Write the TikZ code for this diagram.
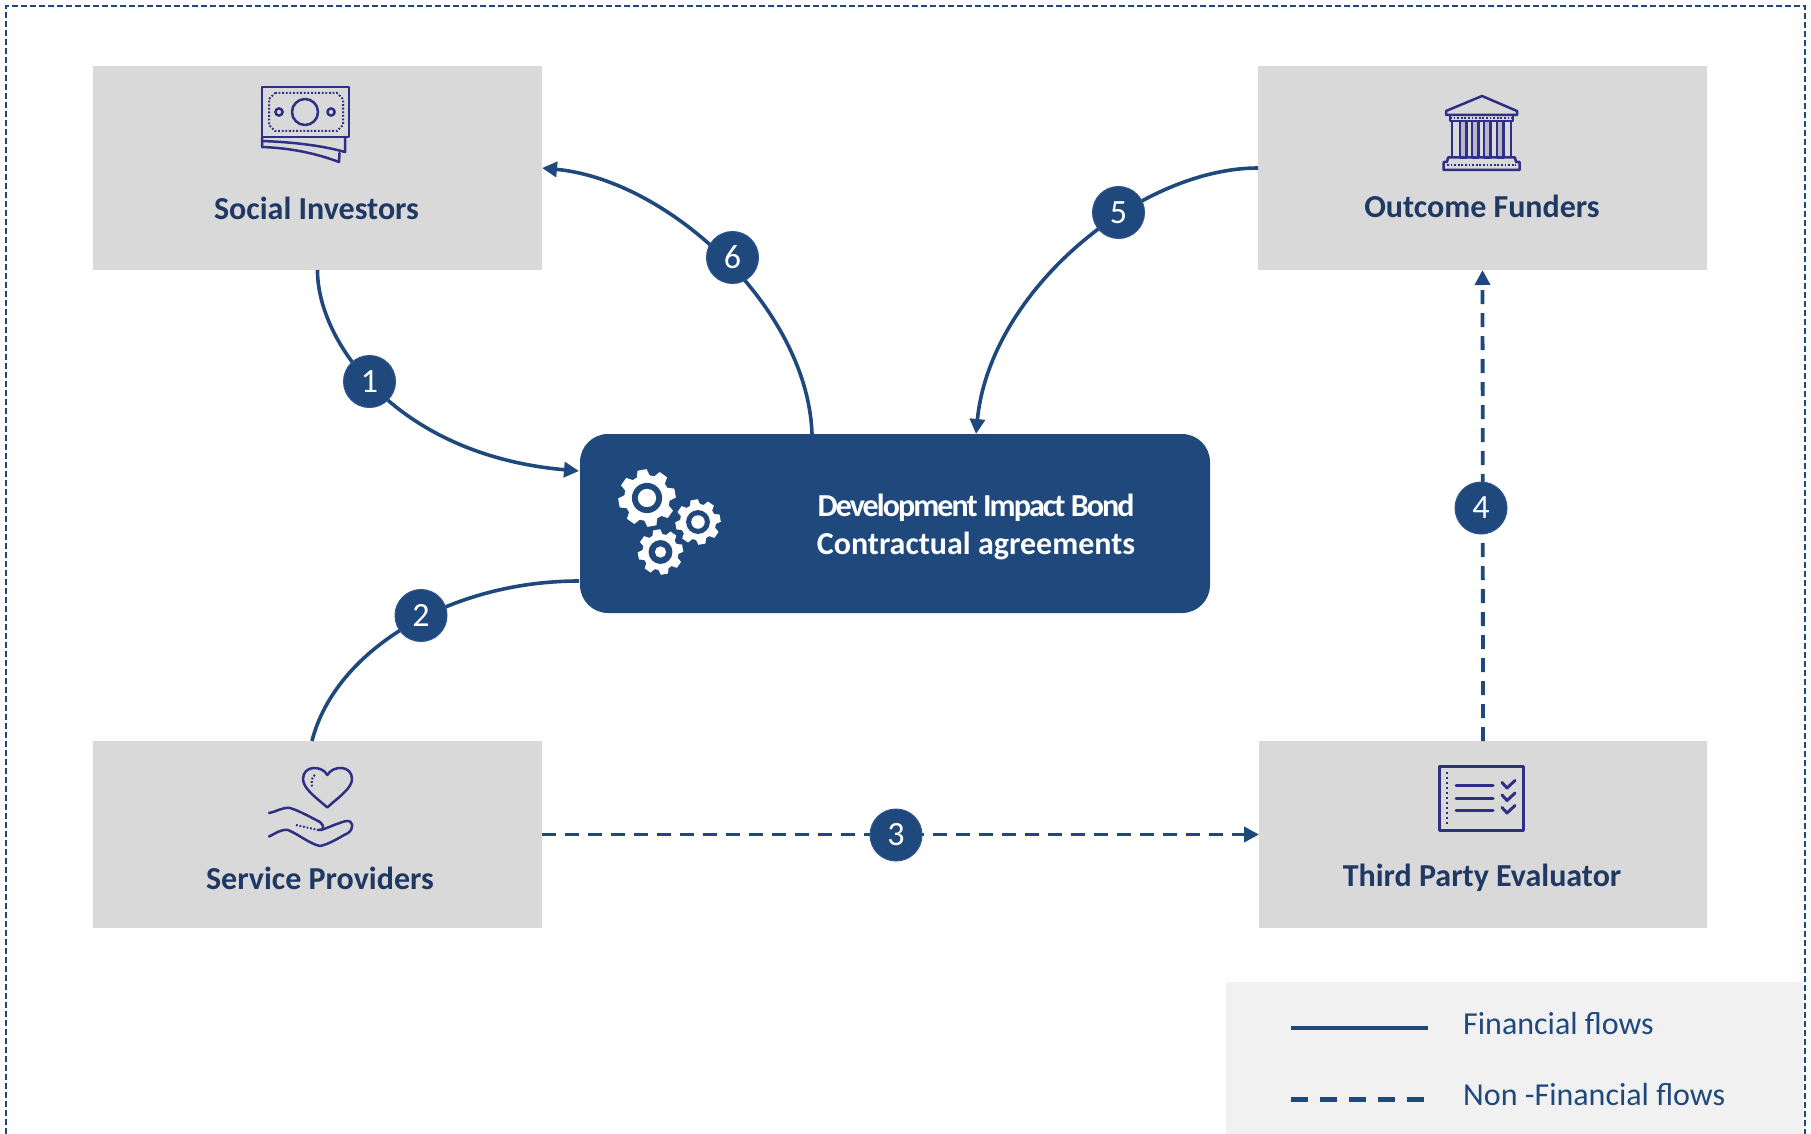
\documentclass[tikz,border=0pt]{standalone}
\usepackage{fontspec}
\setmainfont{Carlito}
\usetikzlibrary{arrows.meta}
\definecolor{flow}{HTML}{1F497D}
\definecolor{ink}{HTML}{1F3864}
\definecolor{icon}{HTML}{2F2F85}
\definecolor{boxgray}{HTML}{D9D9D9}
\definecolor{leggray}{HTML}{F1F1F1}
\definecolor{ringblue}{HTML}{2F5590}
\newcommand{\mygear}[4]{% x, y, scale radius, hole ratio
  \begin{scope}[shift={(#1,#2)},x=#3pt,y=-#3pt]
    \fill[white] (0,0) circle (0.80);
    \foreach \a in {0,45,...,315}{
      \fill[white,rotate=\a+10] (-0.24,0.72) -- (-0.16,1) -- (0.16,1) -- (0.24,0.72) -- cycle;
    }
    \fill[flow] (0,0) circle (0.53);
    \fill[white] (0,0) circle (#4);
  \end{scope}}
\tikzset{
  x=1pt,y=-1pt,
  greybox/.style={rectangle,fill=boxgray,draw=none,inner sep=0pt,outer sep=0pt},
  title/.style={anchor=base,text=ink,font=\fontsize{32}{38}\selectfont\bfseries,inner sep=0pt},
  hubtext/.style={anchor=base,text=white,font=\fontsize{32}{38}\selectfont\bfseries,inner sep=0pt},
  legtext/.style={anchor=base west,text=flow,font=\fontsize{32}{38}\selectfont,inner sep=0pt},
  badge/.style={circle,fill=flow,draw=ringblue,line width=1pt,minimum size=52pt,inner sep=0pt,text=white,font=\fontsize{34}{38}\selectfont},
  solidflow/.style={draw=flow,line width=3.6pt},
  dashflow/.style={draw=flow,line width=3.8pt,dash pattern=on 14pt off 9pt},
  tip/.style={-{Triangle[length=15pt,width=15pt]}},
  ic/.style={draw=icon,line width=2.5pt,line join=round,line cap=round},
  icdots/.style={draw=icon,line width=2pt,dash pattern=on 1.8pt off 1.8pt},
}
\begin{document}
\begin{tikzpicture}
\useasboundingbox (0,0) rectangle (1811,1134);
% frame
\draw[flow,line width=1.1pt,dash pattern=on 6pt off 3pt] (6,1134) -- (6,6) -- (1805,6) -- (1805,1134);
% legend
\fill[leggray] (1226,982) rectangle (1803,1134);
\coordinate (la) at (1291,1028); \coordinate (lb) at (1428,1028);
\coordinate (lc) at (1291,1099.5); \coordinate (ld) at (1428,1099.5);
\draw[solidflow,line width=4pt] (la) -- (lb);
\draw[draw=flow,line width=4.4pt,dash pattern=on 16.5pt off 12.5pt] (lc) -- (ld);
\node[legtext] (lt1) at (1463,1034) {Financial flows};
\node[legtext] (lt2) at (1463,1105.5) {Non -Financial flows};
% boxes
\node[greybox,minimum width=449pt,minimum height=204pt] (social) at (317.5,168) {};
\node[greybox,minimum width=449pt,minimum height=204pt] (funders) at (1482.5,168) {};
\node[greybox,minimum width=449pt,minimum height=187pt] (service) at (317.5,834.5) {};
\node[greybox,minimum width=448pt,minimum height=187pt] (evaluator) at (1483,834.5) {};
\node[rectangle,rounded corners=28pt,fill=flow,inner sep=0pt,outer sep=0pt,minimum width=630pt,minimum height=179pt] (hub) at (895,523.5) {};
\node[title] (tsocial) at (316.5,219) {Social Investors};
\node[title] (tfunders) at (1482,218) {Outcome Funders};
\node[title] (tservice) at (320,889) {Service Providers};
\node[title] (tevaluator) at (1482,886.5) {Third Party Evaluator};
\node[hubtext,font=\fontsize{32}{38}\selectfont\bfseries\addfontfeature{LetterSpace=-6}] (hub1) at (976,516) {Development Impact Bond};
\node[hubtext] (hub2) at (976,554) {Contractual agreements};
% connector ends
\coordinate (h1) at (579,471);
\coordinate (h2) at (579,581);
\coordinate (h5) at (976,434);
\coordinate (h6) at (812,434);
\coordinate (s2) at (312,741);
% connectors
\draw[solidflow,tip] (social.south) .. controls (317,340) and (395,455) .. (h1);
\draw[solidflow] (s2) .. controls (335,650) and (450,581) .. (h2);
\draw[dashflow,tip] (service.east) -- (evaluator.west);
\draw[dashflow,tip] (evaluator.north) -- (funders.south);
\draw[solidflow,tip] (funders.west) .. controls (1140,168) and (990,290) .. (h5);
\draw[solidflow,tip] (h6) .. controls (808,310) and (670,180) .. (social.east);
% badges
\node[badge] (b1) at (369.5,381.5) {1};
\node[badge] (b2) at (421,615.5) {2};
\node[badge] (b3) at (896,835) {3};
\node[badge] (b4) at (1481,508) {4};
\node[badge] (b5) at (1118.5,212.5) {5};
\node[badge] (b6) at (732.5,257.5) {6};
% gears
\mygear{647}{498}{28.5}{0.32}
\mygear{698}{522}{22.5}{0.30}
\mygear{660.5}{552}{22.5}{0.25}
% money icon
\draw[ic] (262,87) rectangle (349,137);
\draw[ic] (305,112) circle (13);
\draw[ic] (279,112) circle (3.6);
\draw[ic] (331,112) circle (3.6);
\draw[icdots] (275,93) -- (337,93) -- (343,99) -- (343,125) -- (337,131) -- (275,131) -- (269,125) -- (269,99) -- cycle;
\draw[ic] (262,137) -- (262,147) .. controls (290,148) and (315,153) .. (339,162) -- (339.5,153);
\draw[ic] (262,141) .. controls (290,142) and (320,145) .. (345,152) -- (345,137);
% bank icon
\draw[ic] (1446,115) -- (1446,111) -- (1482,96) -- (1517,111) -- (1517,115) -- cycle;
\draw[icdots] (1450,118) -- (1513,118);
\draw[ic] (1450,115) -- (1450,121) -- (1513,121) -- (1513,115);
\draw[ic] (1452,121) -- (1452,157) (1511,121) -- (1511,157);
\foreach \cx in {1460,1472,1484,1497}{
  \draw[ic,fill=boxgray!80!icon] (\cx,121) rectangle (\cx+6.5,157.5);
}
\draw[ic] (1448,157.5) -- (1515,157.5) -- (1516,162) -- (1519.5,162) -- (1519.5,170) -- (1443.5,170) -- (1443.5,162) -- (1447,162) -- cycle;
\draw[icdots] (1447,165.5) -- (1516,165.5);
% hand icon
\draw[ic] (327.3,807.5) .. controls (318,799) and (303,789) .. (303,779) .. controls (303,765) and (322,765) .. (327.3,775) .. controls (333,765) and (352,765) .. (352,779) .. controls (352,789) and (336,799) .. (327.3,807.5) -- cycle;
\draw[icdots] (315,775) .. controls (312,776) and (311,782) .. (312,787);
\draw[ic] (269,813) .. controls (276,812) and (282,807) .. (290,808) .. controls (300,811) and (312,818) .. (320,822) .. controls (325,826) and (324,831) .. (318,830);
\draw[icdots] (296,825) -- (318,830);
\draw[ic] (269,836.5) .. controls (275,834) and (280,829) .. (288,830) .. controls (298,834) and (310,844) .. (320,846) .. controls (330,844) and (340,837) .. (348,833) .. controls (354,829) and (354,820) .. (346,821) .. controls (338,823) and (330,827) .. (321,830);
% checklist icon
\draw[ic,line width=3pt] (1439.5,766) rectangle (1523.5,830);
\draw[icdots,line width=2.4pt,dash pattern=on 2pt off 3pt] (1447,772) -- (1447,826);
\foreach \ly in {785.5,798,810.5}{
  \draw[ic,line width=3pt] (1456,\ly) -- (1493,\ly);
  \draw[ic,line width=3pt] (1502,\ly-3) -- (1507,\ly+2.5) -- (1515,\ly-5);
}
\end{tikzpicture}
\end{document}
